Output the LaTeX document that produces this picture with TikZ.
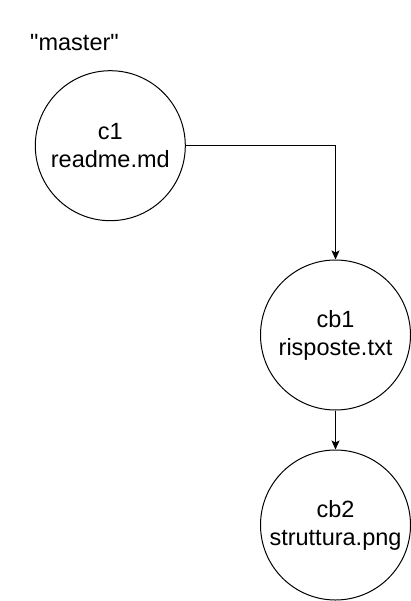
\documentclass[tikz,border=0pt]{standalone}
\usepackage{fontspec}
\setmainfont{Liberation Sans}[Ligatures=TeXOff]
\usetikzlibrary{arrows.meta}
\begin{document}
\begin{tikzpicture}[x=1pt,y=1pt,
  commit/.style={draw=black,line width=1pt,circle,minimum size=150pt,inner sep=0pt,align=center,
    font=\fontsize{23.5}{28}\selectfont},
  conn/.style={draw=black,line width=1pt,-{Stealth[length=9pt,width=8pt,inset=2pt]}},
  lbl/.style={font=\fontsize{23.5}{28}\selectfont,inner sep=0pt}]
\useasboundingbox (0,0) rectangle (411,-601);
\node[lbl] (master) at (74.5,-43) {"master"};
\node[commit] (c1) at (110.3,-145.7) {c1\\readme.md};
\node[commit] (cb1) at (335.5,-335) {cb1\\risposte.txt};
\node[commit] (cb2) at (335.5,-525) {cb2\\struttura.png};
\draw[conn] (c1.east) -| (cb1.north);
\draw[conn] (cb1.south) -- (cb2.north);
\end{tikzpicture}
\end{document}
